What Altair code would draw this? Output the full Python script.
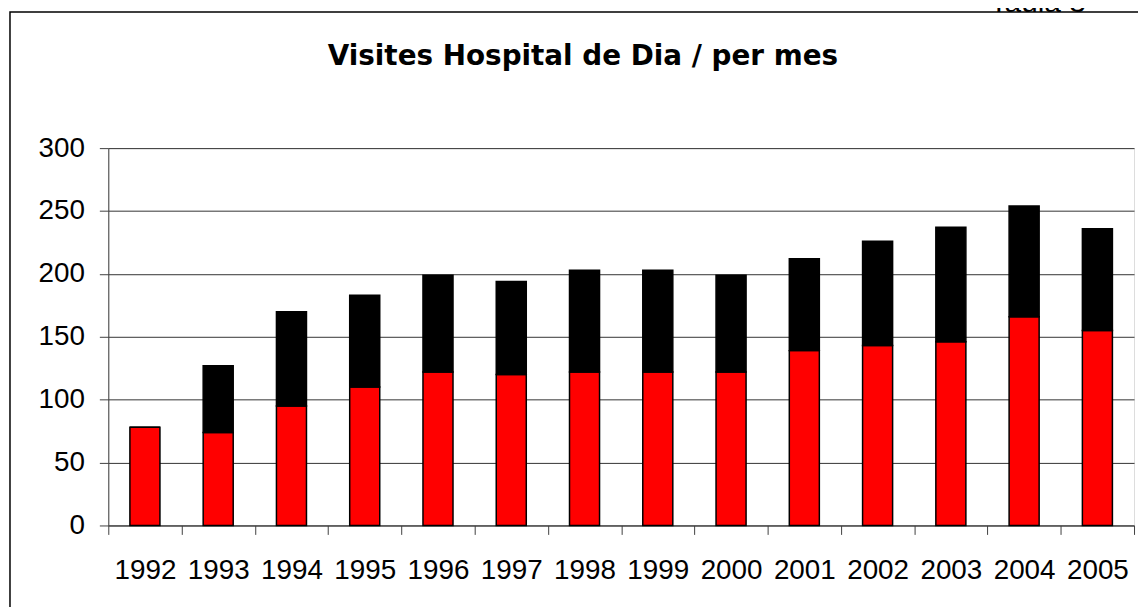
import altair as alt
import pandas as pd

years = [str(y) for y in range(1992, 2006)]
red_values = [78, 74, 95, 110, 122, 120, 122, 122, 122, 139, 143, 146, 166, 155]
black_values = [0, 53, 75, 73, 77, 74, 81, 81, 77, 73, 83, 91, 88, 81]
series_names = ["Sèrie 1", "Sèrie 2"]
series_colors = ["#FF0000", "#000000"]
y_ticks = [0, 50, 100, 150, 200, 250, 300]
title_text = "Visites Hospital de Dia / per mes"
corner_text = "Taula 3"

rows = []
for i, yr in enumerate(years):
    rows.append({"any": yr, "serie": series_names[0], "ord": 0, "valor": red_values[i]})
    rows.append({"any": yr, "serie": series_names[1], "ord": 1, "valor": black_values[i]})
df = pd.DataFrame(rows)

LABEL_FONT = "Liberation Sans"
PLOT_W = 1033

bars = alt.Chart(df).mark_bar(stroke="#000000", strokeWidth=1.5,
                              width=alt.RelativeBandSize(0.41)).encode(
    x=alt.X("any:N", sort=years,
            scale=alt.Scale(paddingInner=0, paddingOuter=0),
            axis=alt.Axis(title=None, labelAngle=0, labelFont=LABEL_FONT, labelFontSize=28,
                          labelColor="#000000", ticks=True, tickBand="extent", tickSize=9,
                          tickWidth=1, tickColor="#404040", domainColor="#404040",
                          labelPadding=22, grid=False)),
    y=alt.Y("valor:Q", stack="zero",
            scale=alt.Scale(domain=[0, 300], nice=False),
            axis=alt.Axis(title=None, values=y_ticks, labelFont=LABEL_FONT, labelFontSize=28,
                          labelColor="#000000", ticks=True, tickSize=9, tickColor="#404040",
                          domainColor="#404040", labelPadding=15, grid=True,
                          gridColor="#333333", gridWidth=1)),
    color=alt.Color("serie:N", scale=alt.Scale(domain=series_names, range=series_colors), legend=None),
    order=alt.Order("ord:Q", sort="ascending"),
)

one = pd.DataFrame({"k": [0]})
frame = alt.Chart(one).mark_rect(fill="transparent", stroke="#000000", strokeWidth=1.5, clip=False).encode(
    x=alt.value(-99), x2=alt.value(1200), y=alt.value(-137), y2=alt.value(600)
)
taula = alt.Chart(one).mark_text(text=corner_text, font=LABEL_FONT, fontSize=30, color="#000000",
                                 align="center", baseline="alphabetic", clip=False).encode(
    x=alt.value(936), y=alt.value(-137)
)
title = alt.Chart(one).mark_text(text=title_text, font="DejaVu Sans", fontSize=28, fontWeight="bold",
                                 color="#000000", align="center", baseline="alphabetic",
                                 clip=False).encode(
    x=alt.value(478), y=alt.value(-84)
)

chart = alt.layer(frame, bars, taula, title).properties(
    width=PLOT_W, height=380,
    autosize=alt.AutoSizeParams(type="none"),
    padding={"left": 101, "top": 139, "right": 4, "bottom": 80},
).configure_view(stroke="#808080", strokeWidth=1).configure(background="#ffffff")

chart.save("out.html", embed_options={"renderer": "svg", "actions": False})
